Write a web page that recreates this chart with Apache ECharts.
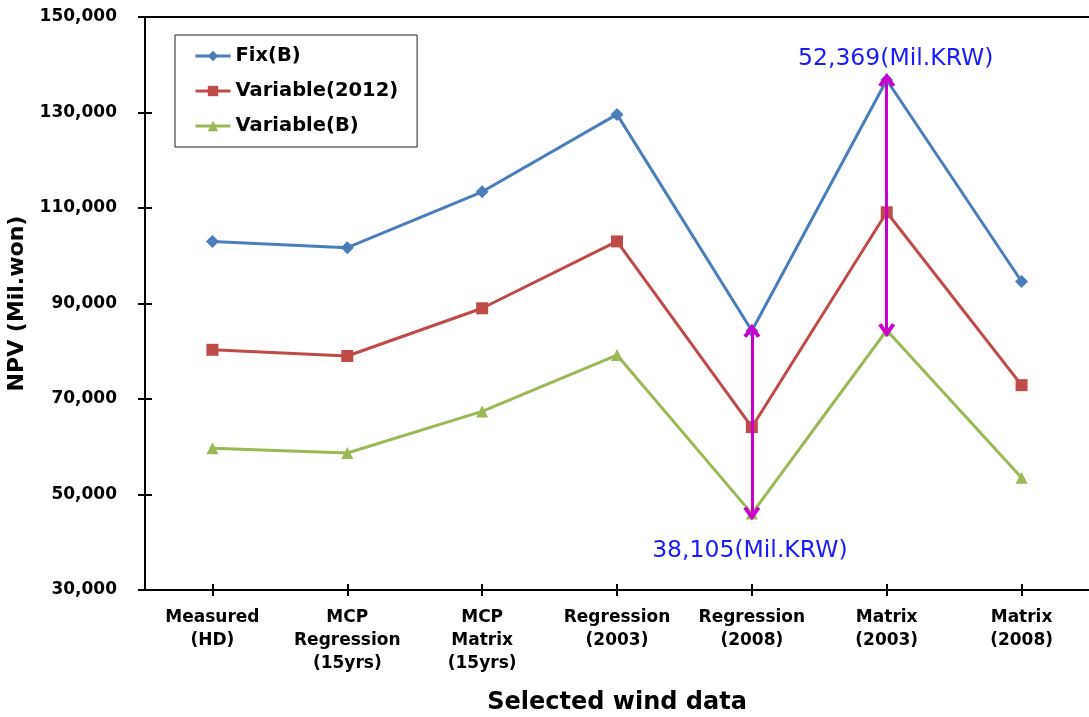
<!DOCTYPE html>
<html>
<head>
<meta charset="utf-8">
<script src="https://cdn.jsdelivr.net/npm/echarts@6/dist/echarts.min.js"></script>
<style>html,body{margin:0;padding:0;background:#fff;}#c{width:1089px;height:717px;}</style>
</head>
<body>
<div id="c"></div>
<script>
var categories = ['Measured\n(HD)', 'MCP\nRegression\n(15yrs)', 'MCP\nMatrix\n(15yrs)', 'Regression\n(2003)', 'Regression\n(2008)', 'Matrix\n(2003)', 'Matrix\n(2008)'];
var fixB = [103000, 101700, 113400, 129600, 84300, 136800, 94600];
var variable2012 = [80300, 79000, 89000, 103000, 64100, 109100, 72900];
var variableB = [59700, 58700, 67400, 79200, 46000, 84400, 53500];
var yTicks = { min: 30000, max: 150000, interval: 20000 };
// annotation arrows: [category index, from value, to value]
var arrows = [[4, 84300, 46000], [5, 136800, 84400]];
// annotation labels: [category index, value, text]
var notes = [[5, 141300, '52,369(Mil.KRW)'], [4, 38200, '38,105(Mil.KRW)']];

var FONT = 'DejaVu Sans';
var chart = echarts.init(document.getElementById('c'));
var chevron = 'path://M5,0 L10,8 L8,9.3 L5,4.3 L2,9.3 L0,8 Z';

var xBase = {
  type: 'category', data: categories, boundaryGap: true,
  axisLine: { lineStyle: { color: '#000', width: 2 } },
  splitLine: { show: false }
};
var option = {
  animation: false,
  backgroundColor: '#fff',
  grid: { left: 145, right: 0, top: 17, bottom: 127, containLabel: false, outerBoundsMode: 'none' },
  legend: {
    orient: 'vertical', left: 175, top: 35,
    borderColor: '#222', borderWidth: 1,
    padding: [11, 19, 11, 19], itemGap: 15, itemWidth: 35, itemHeight: 13,
    lineStyle: { width: 3 },
    textStyle: { fontFamily: FONT, fontWeight: 'bold', fontSize: 19.5, color: '#000' },
    data: ['Fix(B)', 'Variable(2012)', 'Variable(B)']
  },
  xAxis: [
    Object.assign({}, xBase, {
      position: 'bottom',
      name: 'Selected wind data', nameLocation: 'middle', nameGap: 101,
      nameTextStyle: { fontFamily: FONT, fontWeight: 'bold', fontSize: 24, color: '#000' },
      axisTick: { show: true, alignWithLabel: true, length: 6, lineStyle: { color: '#000', width: 2 } },
      axisLabel: { fontFamily: FONT, fontWeight: 'bold', fontSize: 17, color: '#000', lineHeight: 23, margin: 16, interval: 0 }
    }),
    Object.assign({}, xBase, {
      position: 'bottom',
      axisTick: { show: true, inside: true, alignWithLabel: true, length: 6, lineStyle: { color: '#000', width: 2 } },
      axisLabel: { show: false }
    }),
    Object.assign({}, xBase, {
      position: 'top',
      axisTick: { show: false },
      axisLabel: { show: false }
    })
  ],
  yAxis: [
    {
      type: 'value', min: yTicks.min, max: yTicks.max, interval: yTicks.interval,
      name: 'NPV (Mil.won)', nameLocation: 'middle', nameGap: 100,
      nameTextStyle: { fontFamily: FONT, fontWeight: 'bold', fontSize: 22, color: '#000' },
      axisLine: { show: true, lineStyle: { color: '#000', width: 2 } },
      axisTick: { show: true, length: 7, lineStyle: { color: '#000', width: 2 } },
      splitLine: { show: false },
      axisLabel: { fontFamily: FONT, fontWeight: 'bold', fontSize: 17, color: '#000', margin: 28,
        formatter: function (v) { return v.toLocaleString('en-US'); } }
    },
    {
      type: 'value', min: yTicks.min, max: yTicks.max, interval: yTicks.interval, position: 'left',
      axisLine: { show: false },
      axisTick: { show: true, inside: true, length: 7, lineStyle: { color: '#000', width: 2 } },
      splitLine: { show: false }, axisLabel: { show: false }
    }
  ],
  series: [
    {
      name: 'Fix(B)', type: 'line', data: fixB, symbol: 'diamond', symbolSize: 13,
      itemStyle: { color: '#4A7EBB' }, lineStyle: { color: '#4A7EBB', width: 3 }, z: 3
    },
    {
      name: 'Variable(2012)', type: 'line', data: variable2012, symbol: 'rect', symbolSize: 12,
      itemStyle: { color: '#BE4B48' }, lineStyle: { color: '#BE4B48', width: 3 }, z: 3
    },
    {
      name: 'Variable(B)', type: 'line', data: variableB, symbol: 'triangle', symbolSize: 12,
      itemStyle: { color: '#98B954' }, lineStyle: { color: '#98B954', width: 3 }, z: 3,
      markLine: {
        silent: true, symbol: [chevron, chevron], symbolSize: [17, 14],
        lineStyle: { color: '#CC00CC', width: 3, type: 'solid' },
        label: { show: false },
        data: arrows.map(function (a) {
          return [{ coord: [a[0], a[1]] }, { coord: [a[0], a[2]] }];
        }),
        z: 5
      },
      markPoint: {
        silent: true, symbol: 'circle', symbolSize: 0,
        label: { show: true, fontFamily: FONT, fontSize: 23.5, color: '#1A1AFF', position: 'inside' },
        data: notes.map(function (n, i) {
          return { coord: [n[0], n[1]], label: { formatter: n[2], offset: i === 0 ? [9, 0] : [-2, 0] } };
        })
      }
    }
  ]
};
chart.setOption(option);
</script>
</body>
</html>
